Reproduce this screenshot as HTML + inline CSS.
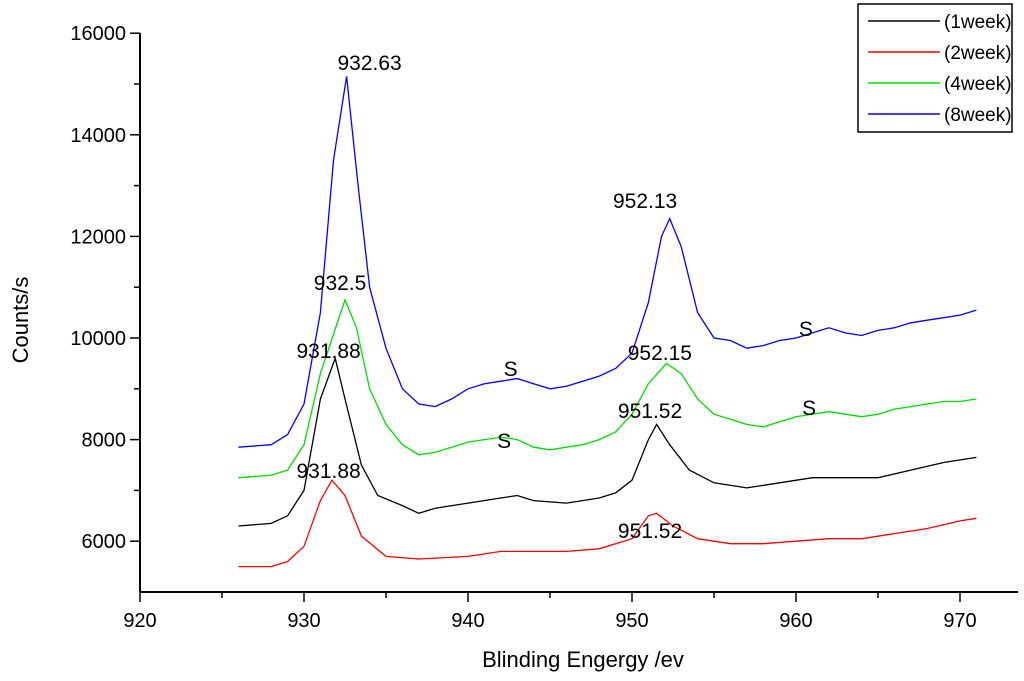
<!DOCTYPE html>
<html><head><meta charset="utf-8"><style>
html,body{margin:0;padding:0;background:#fff}
svg{display:block;font-family:"Liberation Sans",Arial,sans-serif}
</style></head><body>
<svg id="chart" width="1024" height="681" viewBox="0 0 1024 681">
<g id="axes"></g><g id="series"></g><g id="annot"></g><g id="legend"></g>
</svg>
<script>
const xTicks=[920,930,940,950,960,970];
const yTicks=[6000,8000,10000,12000,14000,16000];
const seriesNames=["(1week)","(2week)","(4week)","(8week)"];
const seriesColors=["#000000","#ff0000","#00dd00","#0000ff"];
const blueX=[926,928,929,930,931,931.8,932.6,933.3,934,935,936,937,938,939,940,941,942,943,944,945,946,947,948,949,950,951,951.8,952.3,953,954,955,956,957,958,959,960,961,962,963,964,965,966,967,968,969,970,971];
const blueY=[7850,7900,8100,8700,10500,13500,15150,13000,11000,9800,9000,8700,8650,8800,9000,9100,9150,9200,9100,9000,9050,9150,9250,9400,9700,10700,12000,12350,11800,10500,10000,9950,9800,9850,9950,10000,10100,10200,10100,10050,10150,10200,10300,10350,10400,10450,10550];
const greenX=[926,928,929,930,931,932.5,933.2,934,935,936,937,938,939,940,941,942,943,944,945,946,947,948,949,950,951,952.1,953,954,955,956,957,958,959,960,961,962,963,964,965,966,967,968,969,970,971];
const greenY=[7250,7300,7400,7900,9300,10750,10200,9000,8300,7900,7700,7750,7850,7950,8000,8050,8000,7850,7800,7850,7900,8000,8150,8500,9100,9500,9300,8800,8500,8400,8300,8250,8350,8450,8500,8550,8500,8450,8500,8600,8650,8700,8750,8750,8800];
const blackX=[926,928,929,930,931,931.9,932.5,933.5,934.5,936,937,938,940,942,943,944,946,948,949,950,951,951.5,952.3,953.5,955,957,959,961,963,965,967,969,971];
const blackY=[6300,6350,6500,7000,8800,9600,8800,7500,6900,6700,6550,6650,6750,6850,6900,6800,6750,6850,6950,7200,8000,8300,7900,7400,7150,7050,7150,7250,7250,7250,7400,7550,7650];
const redX=[926,928,929,930,931,931.7,932.5,933.5,935,937,940,942,944,946,948,950,951,951.5,952.5,954,956,958,960,962,964,966,968,970,971];
const redY=[5500,5500,5600,5900,6800,7200,6900,6100,5700,5650,5700,5800,5800,5800,5850,6050,6500,6550,6300,6050,5950,5950,6000,6050,6050,6150,6250,6400,6450];
const annLabels=["932.63","952.13","932.5","931.88","952.15","951.52","931.88","951.52","S","S","S","S"];
const annX=[934.0,950.8,932.2,931.5,951.7,951.1,931.5,951.1,942.6,942.2,960.6,960.8];
const annY=[15276,12559,10945,9606,9567,8425,7244,6063,9252,7835,10039,8484];

const X0=140,XS=16.4,Y0=592,YS=0.0508;
const sx=v=>X0+(v-920)*XS, sy=v=>Y0-(v-5000)*YS;
const NS="http://www.w3.org/2000/svg";
function mk(t,a,p){const e=document.createElementNS(NS,t);for(const k in a)e.setAttribute(k,a[k]);p.appendChild(e);return e;}
const ax=document.getElementById('axes');
let e=mk('line',{x1:X0,y1:33,x2:X0,y2:Y0,stroke:'#000','stroke-width':2},ax);

e=mk('line',{x1:X0,y1:Y0,x2:1018,y2:Y0,stroke:'#000','stroke-width':2},ax);

for(let v=920;v<=975;v+=5){mk('line',{x1:sx(v),y1:Y0,x2:sx(v),y2:Y0+(v%10?6:10),stroke:'#000','stroke-width':1.5},ax);}
xTicks.forEach(v=>{const t=mk('text',{x:sx(v),y:Y0+35,'font-size':20,'text-anchor':'middle'},ax);t.textContent=v;
});
for(let v=6000;v<=16000;v+=1000){mk('line',{x1:X0-(v%2000?6:10),y1:sy(v),x2:X0,y2:sy(v),stroke:'#000','stroke-width':1.5},ax);}
yTicks.forEach(v=>{const t=mk('text',{x:X0-14,y:sy(v)+7,'font-size':20,'text-anchor':'end'},ax);t.textContent=v;
});
e=mk('text',{x:583,y:667,'font-size':22,'text-anchor':'middle'},ax);e.textContent='Blinding Engergy /ev';

e=mk('text',{x:0,y:0,'font-size':22,'text-anchor':'middle',transform:'translate(28,320) rotate(-90)'},ax);e.textContent='Counts/s';

const sg=document.getElementById('series');
[[blackX,blackY,0,'series-1week'],[redX,redY,1,'series-2week'],[greenX,greenY,2,'series-4week'],[blueX,blueY,3,'series-8week']].forEach(([xs,ys,i,n])=>{
 const p=mk('polyline',{points:xs.map((x,j)=>sx(x).toFixed(1)+','+sy(ys[j]).toFixed(1)).join(' '),fill:'none',stroke:seriesColors[i],'stroke-width':1.3},sg);
 });
const an=document.getElementById('annot');
annLabels.forEach((s,i)=>{const t=mk('text',{x:sx(annX[i]),y:sy(annY[i]),'font-size':21,'text-anchor':'middle'},an);t.textContent=s;
});
const lg=document.getElementById('legend');
e=mk('rect',{x:858,y:4,width:154,height:128,fill:'#fff',stroke:'#000','stroke-width':1.5},lg);

seriesNames.forEach((s,i)=>{const y=21+i*31;
 const g=mk('g',{},lg);
 mk('line',{x1:868,y1:y,x2:940,y2:y,stroke:seriesColors[i],'stroke-width':1.5},g);
 const t=mk('text',{x:944,y:y+7,'font-size':19},g);t.textContent=s;});
</script>
</body></html>
